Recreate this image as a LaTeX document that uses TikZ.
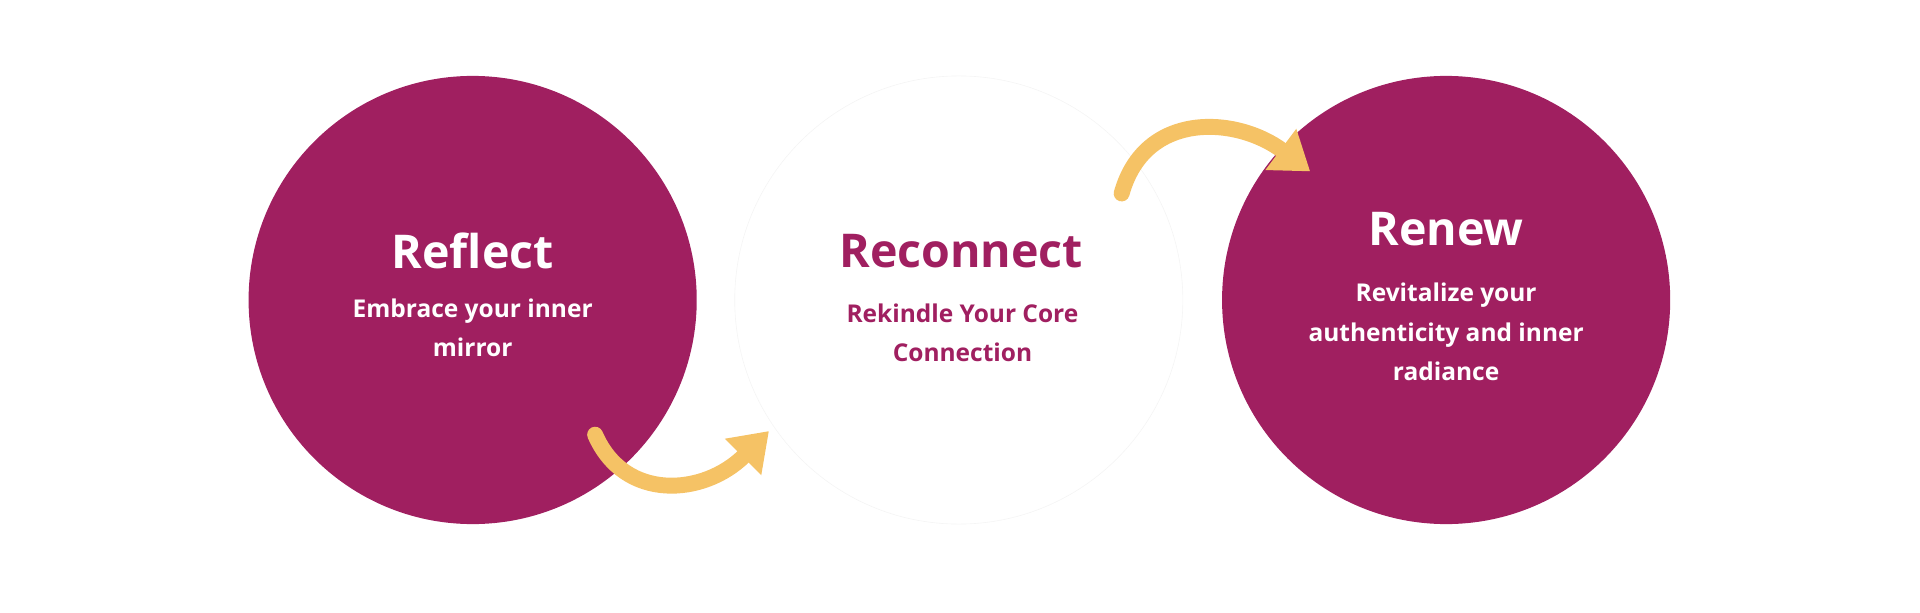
\documentclass[tikz,border=0pt]{standalone}
\usepackage{fontspec}
\setmainfont{Open Sans}
\usetikzlibrary{arrows.meta}
\definecolor{plum}{RGB}{160,31,96}
\definecolor{gold}{RGB}{245,194,101}
\begin{document}
\begin{tikzpicture}[x=1pt,y=1pt,yscale=-1,
  disc/.style={circle,minimum size=366pt,inner sep=0pt},
  title/.style={font=\fontsize{38}{40}\selectfont\bfseries},
  body/.style={font=\fontsize{20}{32}\selectfont\bfseries,align=center},
  brush/.style={gold,line width=13pt,line cap=round,-{Triangle[width=40pt,length=30pt]}}]
\useasboundingbox (0,0) rectangle (1568,500);

% circles
\node[disc,fill=plum] (reflect) at (386,245) {};
\node[disc,fill=white,draw=black!4,line width=0.5pt] (reconnect) at (783,245) {};
\node[disc,fill=plum] (renew) at (1181,245) {};

% texts
\node[title,white] (t1) at (386,205) {Reflect};
\node[body,white] (b1) at (386,268) {Embrace your inner\\mirror};
\node[title,plum] (t2) at (785,205) {Reconnect};
\node[body,plum] (b2) at (786,272) {Rekindle Your Core\\Connection};
\node[title,white] (t3) at (1181,187) {Renew};
\node[body,white] (b3) at (1181,271) {Revitalize your\\authenticity and inner\\radiance};

% arrows
\coordinate (a1) at (486,355);
\coordinate (a2) at (628,352);
\coordinate (c1) at (916,158);
\coordinate (c2) at (1070,140);
\draw[brush] (a1) .. controls (510,410) and (575,405) .. (a2);
\draw[brush] (c1) .. controls (935,90) and (1010,95) .. (c2);
\end{tikzpicture}
\end{document}
